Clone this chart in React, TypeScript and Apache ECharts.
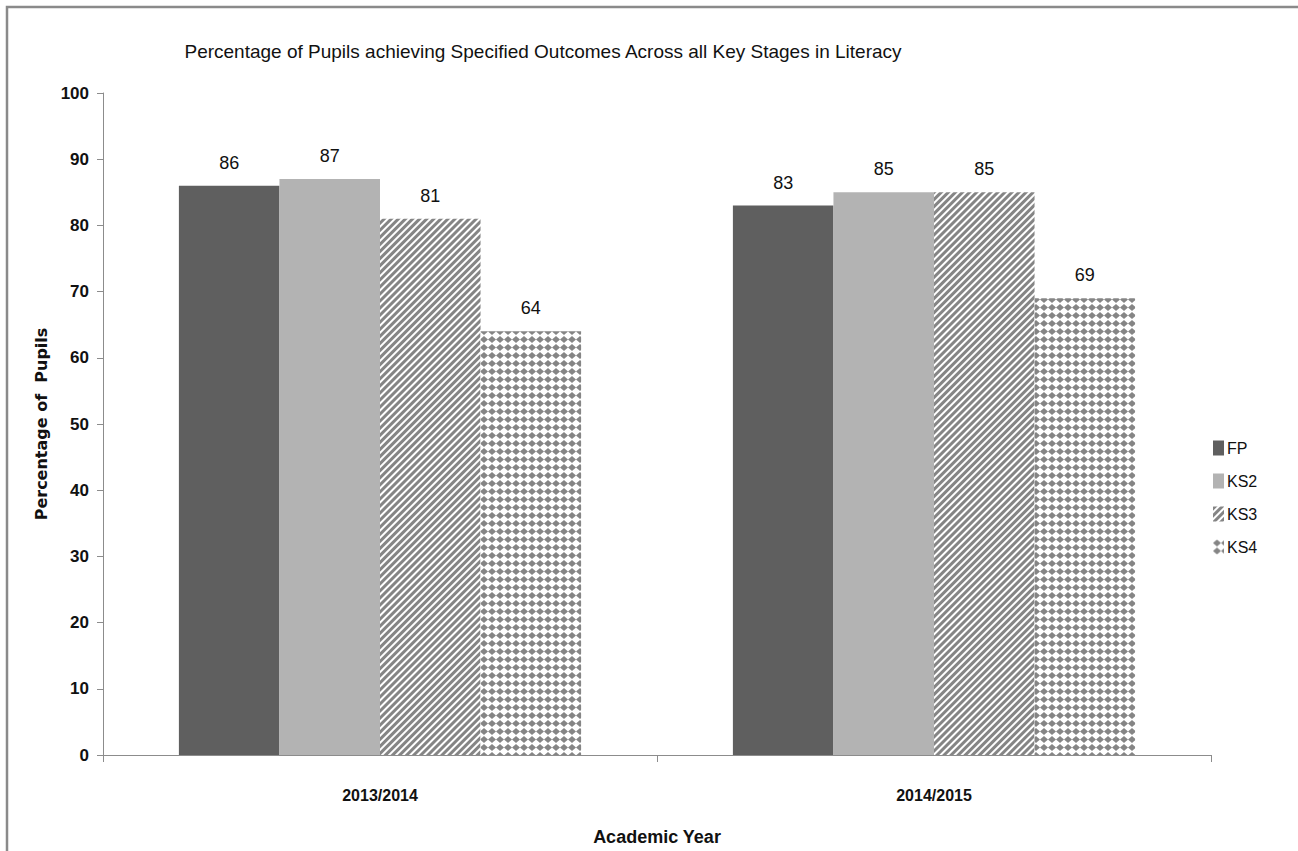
import React, { useEffect, useRef } from "react";
import * as echarts from "echarts";

const categories = ["2013/2014", "2014/2015"];
const seriesNames = ["FP", "KS2", "KS3", "KS4"];
const fpValues = [86, 83];
const ks2Values = [87, 85];
const ks3Values = [81, 85];
const ks4Values = [64, 69];

const NARROW = "'Liberation Sans Narrow', 'Arial Narrow', 'Liberation Sans', sans-serif";

export default function App() {
  const ref = useRef<HTMLDivElement>(null);
  useEffect(() => {
    document.body.style.margin = "0";
    const chart = echarts.init(ref.current!, null, { renderer: "svg" });
    const label = {
      show: true,
      position: "top" as const,
      distance: 14,
      color: "#111",
      fontFamily: NARROW,
      fontSize: 18,
    };
    const stripe = {
      symbol: "rect",
      symbolSize: 1,
      dashArrayX: [1, 0],
      dashArrayY: [3, 2],
      rotation: -Math.PI / 4,
      color: "#858585",
    };
    const diamond = {
      symbol: "diamond",
      symbolSize: 1,
      dashArrayX: [8, 0],
      dashArrayY: [7, 1],
      rotation: 0,
      color: "#858585",
    };
    chart.setOption({
      animation: false,
      backgroundColor: "#ffffff",
      title: {
        text: "Percentage of Pupils achieving Specified Outcomes Across all Key Stages in Literacy",
        left: 538,
        textAlign: "center",
        top: 37,
        textStyle: { fontFamily: NARROW, fontSize: 19, fontWeight: "normal", color: "#111" },
      },
      legend: {
        orient: "vertical",
        left: 1208,
        top: 435,
        itemGap: 17,
        itemWidth: 11,
        itemHeight: 15,
        icon: "rect",
        data: seriesNames,
        textStyle: { fontFamily: NARROW, fontSize: 16, color: "#111", padding: [0, 0, 0, -2] },
      },
      grid: { left: 103, right: 87, top: 93, bottom: 93, containLabel: false },
      xAxis: {
        type: "category",
        data: categories,
        name: "Academic Year",
        nameLocation: "middle",
        nameGap: 73,
        nameTextStyle: { fontFamily: NARROW, fontSize: 18, fontWeight: "bold", color: "#111" },
        axisLine: { lineStyle: { color: "#8c8c8c", width: 1 } },
        axisTick: { show: true, length: 7, lineStyle: { color: "#8c8c8c" } },
        axisLabel: { fontFamily: NARROW, fontSize: 16, fontWeight: "bold", color: "#111", margin: 32 },
      },
      yAxis: {
        type: "value",
        min: 0,
        max: 100,
        interval: 10,
        name: "Percentage of  Pupils",
        nameLocation: "middle",
        nameGap: 52,
        nameTextStyle: { fontFamily: "'DejaVu Sans', sans-serif", fontSize: 16, fontWeight: "bold", color: "#111" },
        splitLine: { show: false },
        axisLine: { show: true, lineStyle: { color: "#8c8c8c", width: 1 } },
        axisTick: { show: true, length: 6, lineStyle: { color: "#8c8c8c" } },
        axisLabel: { fontFamily: NARROW, fontSize: 17, fontWeight: "bold", color: "#111", margin: 14 },
      },
      graphic: [
        {
          type: "polyline",
          shape: { points: [[7, 860], [7, 7], [1300, 7]] },
          style: { stroke: "#8a8a8a", lineWidth: 2.5, fill: "none" },
          silent: true,
        },
      ],
      series: [
        {
          name: "FP",
          type: "bar",
          data: fpValues,
          barGap: "0%",
          barCategoryGap: "27.4%",
          itemStyle: { color: "#5f5f5f" },
          label,
        },
        {
          name: "KS2",
          type: "bar",
          data: ks2Values,
          itemStyle: { color: "#b3b3b3" },
          label,
        },
        {
          name: "KS3",
          type: "bar",
          data: ks3Values,
          itemStyle: { color: "#ffffff", decal: stripe },
          label,
        },
        {
          name: "KS4",
          type: "bar",
          data: ks4Values,
          itemStyle: { color: "#ffffff", decal: diamond },
          label,
        },
      ],
    });
    return () => chart.dispose();
  }, []);
  return <div ref={ref} style={{ width: 1298, height: 851 }} />;
}
